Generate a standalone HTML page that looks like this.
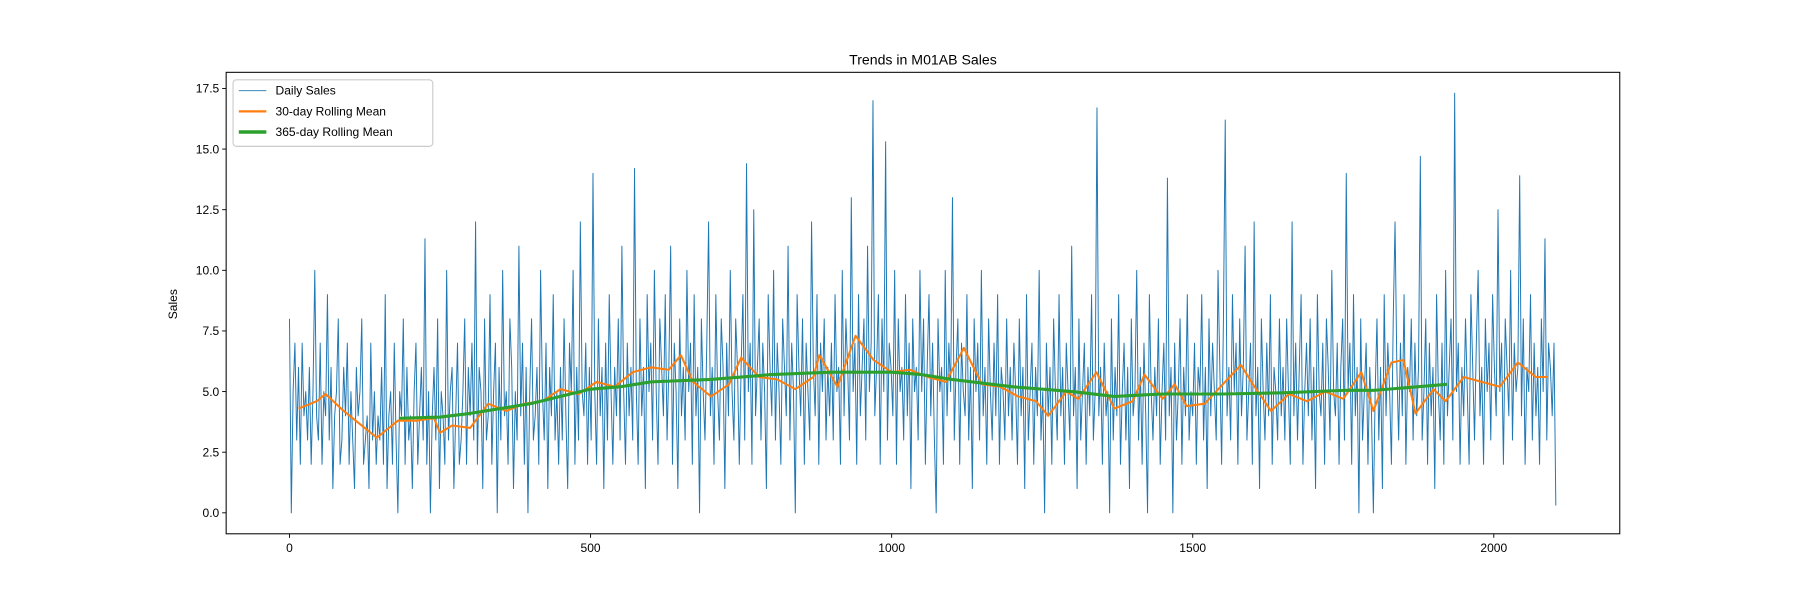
<!DOCTYPE html>
<html><head><meta charset="utf-8"><style>
body{margin:0;background:#fff}
svg{display:block;font-family:"Liberation Sans","DejaVu Sans",sans-serif}
</style></head><body>
<svg id="chart" width="1800" height="600" viewBox="0 0 1568 522.67">
<rect width="1568" height="523" fill="#fff"/>
<text x="804" y="56" text-anchor="middle" font-size="12.3">Trends in M01AB Sales</text>
<text transform="translate(154,265) rotate(-90)" text-anchor="middle" font-size="10.5">Sales</text>
<g id="ticks"></g>
<g id="plot"></g>
<rect x="197" y="63" width="1214" height="402" fill="none" stroke="#000" stroke-width="0.9"/>
<g>
<rect x="203" y="69.5" width="174" height="58" rx="3" fill="#fff" fill-opacity="0.8" stroke="#ccc"/>
<g><line x1="208" y1="79" x2="232" y2="79" stroke="#1f77b4" stroke-width="0.7"/><text x="240" y="82.5" font-size="10.5">Daily Sales</text></g>
<g><line x1="208" y1="97" x2="232" y2="97" stroke="#ff7f0e" stroke-width="2"/><text x="240" y="100.5" font-size="10.5">30-day Rolling Mean</text></g>
<g><line x1="208" y1="115" x2="232" y2="115" stroke="#2ca02c" stroke-width="3"/><text x="240" y="118.5" font-size="10.5">365-day Rolling Mean</text></g>
</g>
</svg>
<script>
const dailyStep = 3;
const dailySales = ("8 0 5 7 3 6 2 7 4 5 3 6 2 5 10 4 3 7 2 5 4 9 3 6 1 4 5 8 2 3 6 4 7 2 5 3 1 6 4 5 8 2 3 4 1 7 3 5 2 4 " +
"3 6 2 9 1 4 5 2 7 3 0 5 4 8 2 6 3 4 1 5 7 2 4 6 3 11.3 2 5 0 4 6 3 8 1 5 4 2 10 3 5 6 1 4 7 2 3 5 8 2 6 " +
"4 7 3 12 2 6 5 1 8 3 4 9 2 5 7 0 6 3 10 4 5 2 8 6 1 5 3 11 4 7 2 6 0 5 8 3 4 6 2 10 5 3 7 1 6 4 9 3 5 2 " +
"6 3 8 4 1 7 5 10 2 6 3 12 5 4 7 2 6 3 14 5 2 8 4 6 1 7 3 9 5 2 6 4 8 3 11 5 2 7 4 6 3 14.2 5 2 8 4 6 1 9 5 " +
"7 3 10 5 2 8 6 4 9 3 6 11 2 7 5 1 8 4 6 3 10 5 7 2 9 4 6 0 8 5 3 7 12 4 6 2 9 5 3 8 6 1 7 4 10 5 3 8 6 2 " +
"6 9 3 14.4 5 7 2 12.5 4 6 8 3 7 5 1 9 6 4 10 3 7 5 2 8 6 4 11 3 7 5 0 9 6 4 8 2 7 5 3 12 6 4 9 2 7 5 8 3 6 4 " +
"7 3 9 5 6 2 10 4 8 6 3 13 5 7 2 9 4 6 8 3 11 5 7 17 4 6 9 2 8 5 15.3 3 7 6 4 10 2 8 5 6 3 9 4 7 1 8 5 6 3 10 " +
"5 8 2 6 9 4 7 3 0 8 5 6 2 10 4 7 5 13 3 6 8 2 7 5 4 9 3 6 1 8 5 7 3 10 4 6 2 8 5 3 7 4 9 2 6 5 3 8 4 6 " +
"3 7 5 2 8 4 6 1 9 3 5 7 2 6 4 10 3 5 0 7 4 6 2 8 5 3 9 4 6 2 7 5 3 11 4 6 1 8 3 5 7 2 6 4 9 3 5 16.7 4 6 " +
"2 7 4 5 0 8 3 6 4 9 2 5 7 3 6 1 8 4 5 10 3 6 2 7 4 0 9 5 3 6 4 8 2 5 7 3 13.8 4 6 0 7 3 5 8 2 6 4 9 3 5 " +
"4 7 2 6 5 9 3 6 1 8 4 7 5 3 10 6 2 8 16.2 4 6 3 9 5 7 2 8 4 6 11 3 5 7 2 12 4 6 1 8 5 3 7 4 9 2 6 5 3 8 4 " +
"6 3 8 5 2 12 4 7 3 6 9 2 5 7 4 8 3 6 1 9 5 4 7 2 8 6 3 10 5 4 7 2 6 8 3 14 5 7 2 9 4 6 0 8 3 5 7 2 6 4 " +
"0 5 8 3 6 1 9 4 7 5 2 8 12 6 3 7 4 9 2 6 5 8 3 7 4 6 14.7 3 5 8 2 7 4 6 1 9 5 3 7 2 10 4 6 8 3 17.3 5 7 2 6 " +
"4 8 5 2 9 6 3 7 10 4 6 2 8 5 7 3 9 6 4 12.5 5 7 2 8 6 4 10 3 7 5 6 13.9 4 8 2 6 5 9 3 7 4 6 2 8 5 11.3 3 7 6 4 " +
"7 0.3").split(" ").map(Number);
const roll30Days = [15,45,60,90,120,145,180,210,240,250,270,300,330,360,390,420,450,480,510,540,570,600,630,650,670,700,730,750,780,810,840,870,880,910,940,970,1000,1030,1060,1090,1120,1150,1180,1210,1240,1260,1290,1310,1340,1370,1400,1420,1450,1470,1490,1520,1550,1580,1600,1630,1660,1690,1720,1750,1780,1800,1830,1850,1870,1900,1920,1950,1980,2010,2040,2070,2090];
const roll30Vals = [4.3,4.6,4.9,4.2,3.6,3.1,3.8,3.8,3.9,3.3,3.6,3.5,4.5,4.2,4.5,4.6,5.1,4.9,5.4,5.2,5.8,6.0,5.9,6.5,5.4,4.8,5.3,6.4,5.6,5.5,5.1,5.6,6.5,5.2,7.3,6.3,5.8,5.9,5.6,5.4,6.8,5.3,5.2,4.8,4.6,4.0,5.0,4.7,5.8,4.3,4.6,5.7,4.7,5.3,4.4,4.5,5.3,6.1,5.3,4.2,4.9,4.6,5.0,4.7,5.8,4.2,6.2,6.3,4.1,5.1,4.6,5.6,5.4,5.2,6.2,5.6,5.6];
const roll365Days = [182,250,300,350,400,450,500,550,600,700,800,900,1000,1050,1100,1200,1300,1370,1450,1550,1650,1750,1800,1850,1922];
const roll365Vals = [3.9,3.95,4.1,4.3,4.5,4.8,5.1,5.2,5.4,5.5,5.7,5.8,5.8,5.7,5.5,5.2,5.0,4.8,4.9,4.9,4.95,5.05,5.05,5.15,5.3];
const xTicks = [0,500,1000,1500,2000];
const yTicks = [0,2.5,5,7.5,10,12.5,15,17.5];

const NS = "http://www.w3.org/2000/svg";
const xMin = -105.2, xMax = 2209.2, yMin = -0.865, yMax = 18.165;
const L = 197, R = 1411, T = 63, B = 465;
const xs = d => L + (d - xMin) / (xMax - xMin) * (R - L);
const ys = v => B - (v - yMin) / (yMax - yMin) * (B - T);
const plot = document.getElementById('plot');
const ticks = document.getElementById('ticks');
function mk(tag, attrs, parent) {
  const e = document.createElementNS(NS, tag);
  for (const k in attrs) e.setAttribute(k, attrs[k]);
  parent.appendChild(e);
  return e;
}
xTicks.forEach(t => {
  const x = xs(t);
  const ln = mk('line', {x1: x, x2: x, y1: B, y2: B + 3.5, stroke: '#000', 'stroke-width': 0.8}, ticks);
  
  
  const tx = mk('text', {x: x, y: B + 16, 'text-anchor': 'middle', 'font-size': 10.5}, ticks);
  tx.textContent = t;
  
  
});
yTicks.forEach(t => {
  const y = ys(t);
  const ln = mk('line', {x1: L - 3.5, x2: L, y1: y, y2: y, stroke: '#000', 'stroke-width': 0.8}, ticks);
  
  
  const tx = mk('text', {x: L - 6, y: y + 3.7, 'text-anchor': 'end', 'font-size': 10.5}, ticks);
  tx.textContent = t.toFixed(1);
  
  
});
function line(pts, color, w, name) {
  const p = mk('polyline', {points: pts.map(q => xs(q[0]).toFixed(2) + ',' + ys(q[1]).toFixed(2)).join(' '), fill: 'none', stroke: color, 'stroke-width': w, 'stroke-linejoin': 'round'}, plot);
  
  
}
line(dailySales.map((v, i) => [i * dailyStep, v]), '#1f77b4', 0.85, 'daily-sales-line');
line(roll30Days.map((d, i) => [d, roll30Vals[i]]), '#ff7f0e', 1.8, 'rolling-30-line');
line(roll365Days.map((d, i) => [d, roll365Vals[i]]), '#2ca02c', 2.7, 'rolling-365-line');
</script>
</body></html>
